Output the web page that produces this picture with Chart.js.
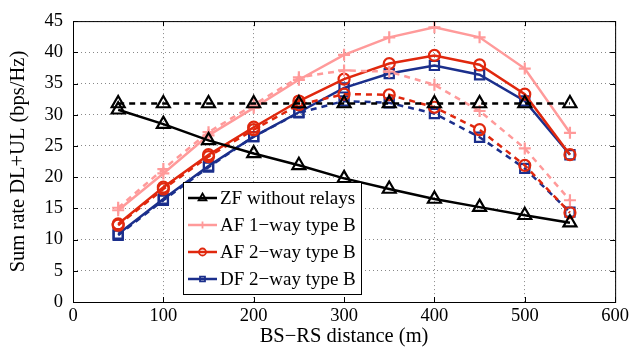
<!DOCTYPE html>
<html>
<head>
<meta charset="utf-8">
<script src="https://cdn.jsdelivr.net/npm/chart.js@4/dist/chart.umd.min.js"></script>
<style>
  html, body { margin: 0; padding: 0; background: #fff; }
  #wrap { width: 632px; height: 353px; }
</style>
</head>
<body>
<div id="wrap"><canvas id="grafico"></canvas></div>
<script>
// distancias BS-RS (m)
const distancias = [50, 100, 150, 200, 250, 300, 350, 400, 450, 500, 550];

// tasas de suma DL+UL (bps/Hz)
const zfSinRelays      = [30.8, 28.5, 25.9, 23.8, 21.9, 19.8, 18.1, 16.5, 15.2, 13.9, 12.7];
const zfSinRelaysCte   = [31.8, 31.8, 31.8, 31.8, 31.8, 31.8, 31.8, 31.8, 31.8, 31.8, 31.8];
const af1Solido        = [14.7, 20.6, 26.7, 31.1, 35.6, 39.6, 42.4, 44.0, 42.4, 37.4, 27.1];
const af1Punteado      = [15.1, 21.3, 27.2, 31.6, 36.0, 37.1, 36.9, 34.8, 30.6, 24.6, 16.3];
const af2Solido        = [12.5, 18.4, 23.6, 28.0, 32.2, 35.7, 38.2, 39.5, 38.0, 33.3, 23.6];
const af2Punteado      = [12.3, 18.1, 23.3, 27.6, 31.6, 33.3, 33.2, 31.2, 27.6, 21.9, 14.3];
const df2Solido        = [10.9, 16.5, 21.8, 26.5, 30.4, 34.3, 36.6, 37.9, 36.4, 32.2, 23.6];
const df2Punteado      = [10.7, 16.3, 21.6, 26.5, 30.3, 32.2, 31.9, 30.2, 26.4, 21.4, 14.4];

const xTicks = [0, 100, 200, 300, 400, 500, 600];
const yTicks = [0, 5, 10, 15, 20, 25, 30, 35, 40, 45];

const NEGRO = '#000000';
const ROSA = '#ff9a9a';
const ROJO = '#e0280e';
const AZUL = '#1b2f8c';

const serif = '"Liberation Serif", "DejaVu Serif", serif';

function serie(label, data, color, estilo, radio, punteado, enLeyenda) {
    return {
        label: label,
        data: data.map((y, i) => ({ x: distancias[i], y: y })),
        borderColor: color,
        backgroundColor: 'rgba(0,0,0,0)',
        borderWidth: 2.5,
        borderDash: punteado ? [6, 5] : [],
        pointStyle: estilo,
        pointRadius: radio,
        pointBorderWidth: 2.2,
        pointBorderColor: color,
        pointBackgroundColor: 'rgba(0,0,0,0)',
        fill: false,
        tension: 0,
        enLeyenda: enLeyenda
    };
}

// leyenda dibujada dentro del área del gráfico
const leyendaInterna = {
    id: 'leyendaInterna',
    afterDraw(chart) {
        const ctx = chart.ctx;
        const x0 = 183, y0 = 182, w = 178, h = 112;
        ctx.save();
        ctx.fillStyle = '#fff';
        ctx.fillRect(x0, y0, w, h);
        ctx.strokeStyle = '#000';
        ctx.lineWidth = 1;
        ctx.strokeRect(x0 + 0.5, y0 + 0.5, w, h);
        ctx.font = '19px ' + serif;
        ctx.textBaseline = 'middle';
        const items = chart.data.datasets.filter(d => d.enLeyenda);
        items.forEach((d, i) => {
            const cy = y0 + 16 + i * 27;
            ctx.strokeStyle = d.borderColor;
            ctx.lineWidth = 2.5;
            ctx.beginPath();
            ctx.moveTo(x0 + 5, cy);
            ctx.lineTo(x0 + 34, cy);
            ctx.stroke();
            ctx.lineWidth = 1.8;
            ctx.fillStyle = 'rgba(0,0,0,0)';
            Chart.helpers.drawPoint(ctx, {
                pointStyle: d.pointStyle,
                radius: d.pointStyle === 'triangle' ? 4.5 : 3.5,
                borderWidth: 1.8
            }, x0 + 19.5, cy);
            ctx.fillStyle = '#000';
            ctx.fillText(d.label, x0 + 37, cy + 1);
        });
        ctx.restore();
    }
};

// marco completo y marcas hacia adentro
const marco = {
    id: 'marco',
    afterDatasetsDraw(chart) {
        const { ctx, chartArea: a, scales } = chart;
        ctx.save();
        ctx.strokeStyle = '#000';
        ctx.lineWidth = 1;
        ctx.strokeRect(a.left + 0.5, a.top + 0.5, a.right - a.left, a.bottom - a.top);
        ctx.beginPath();
        xTicks.forEach(v => {
            const px = Math.round(scales.x.getPixelForValue(v)) + 0.5;
            ctx.moveTo(px, a.bottom); ctx.lineTo(px, a.bottom - 5);
            ctx.moveTo(px, a.top); ctx.lineTo(px, a.top + 5);
        });
        yTicks.forEach(v => {
            const py = Math.round(scales.y.getPixelForValue(v)) + 0.5;
            ctx.moveTo(a.left, py); ctx.lineTo(a.left + 5, py);
            ctx.moveTo(a.right, py); ctx.lineTo(a.right - 5, py);
        });
        ctx.stroke();
        ctx.restore();
    }
};

const ctx = document.getElementById('grafico').getContext('2d');
new Chart(ctx, {
    type: 'line',
    data: {
        datasets: [
            serie('ZF without relays', zfSinRelays, NEGRO, 'triangle', 7.5, false, true),
            serie('ZF dashed', zfSinRelaysCte, NEGRO, 'triangle', 7.5, true, false),
            serie('AF 1\u2212way type B', af1Solido, ROSA, 'cross', 6, false, true),
            serie('AF 1 dashed', af1Punteado, ROSA, 'cross', 6, true, false),
            serie('AF 2\u2212way type B', af2Solido, ROJO, 'circle', 5.5, false, true),
            serie('AF 2 dashed', af2Punteado, ROJO, 'circle', 5.5, true, false),
            serie('DF 2\u2212way type B', df2Solido, AZUL, 'rect', 6.5, false, true),
            serie('DF 2 dashed', df2Punteado, AZUL, 'rect', 6.5, true, false)
        ]
    },
    options: {
        responsive: true,
        maintainAspectRatio: false,
        animation: false,
        layout: { padding: { top: 15, right: 15, left: 0, bottom: 0 } },
        scales: {
            x: {
                type: 'linear',
                min: 0, max: 600,
                afterFit(s) { s.height = 51; },
                afterBuildTicks(s) { s.ticks = xTicks.map(v => ({ value: v })); },
                grid: { color: '#888', drawTicks: false },
                border: { display: false, dash: [1, 3] },
                ticks: { color: '#000', padding: 3, font: { family: serif, size: 18.5 } },
                title: { display: true, text: 'BS\u2212RS distance (m)', color: '#000', padding: { top: 0, bottom: 4 }, font: { family: serif, size: 20.5 } }
            },
            y: {
                min: 0, max: 45,
                afterFit(s) { s.width = 73; },
                afterBuildTicks(s) { s.ticks = yTicks.map(v => ({ value: v })); },
                grid: { color: '#888', drawTicks: false },
                border: { display: false, dash: [1, 3] },
                ticks: { color: '#000', padding: 10, font: { family: serif, size: 18.5 } },
                title: { display: true, text: 'Sum rate DL+UL (bps/Hz)', color: '#000', padding: { top: 6, bottom: 0 }, font: { family: serif, size: 20.5 } }
            }
        },
        plugins: {
            legend: { display: false },
            tooltip: { enabled: false }
        }
    },
    plugins: [marco, leyendaInterna]
});
</script>
</body>
</html>
